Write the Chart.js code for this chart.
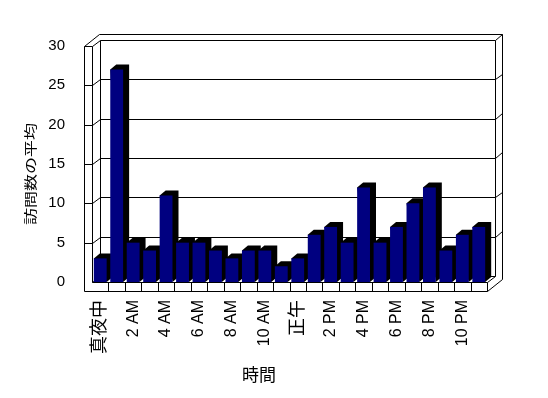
<!DOCTYPE html>
<html>
<head>
<meta charset="utf-8">
<script src="https://cdn.jsdelivr.net/npm/chart.js@4.4.0/dist/chart.umd.min.js"></script>
<style>
html, body { margin: 0; padding: 0; background: #fff; }
</style>
</head>
<body>
<canvas id="myChart" width="548" height="398"></canvas>
<script>
const hours = ['真夜中', '1 AM', '2 AM', '3 AM', '4 AM', '5 AM', '6 AM', '7 AM', '8 AM', '9 AM', '10 AM', '11 AM',
    '正午', '1 PM', '2 PM', '3 PM', '4 PM', '5 PM', '6 PM', '7 PM', '8 PM', '9 PM', '10 PM', '11 PM'];
const visits = [3, 27, 5, 4, 11, 5, 5, 4, 3, 4, 4, 2, 3, 6, 7, 5, 12, 5, 7, 10, 12, 4, 6, 7];
const yTicks = [0, 5, 10, 15, 20, 25, 30];
const xTitle = '時間';
const yTitle = '訪問数の平均';

const FONT = '"Liberation Sans", "Noto Sans CJK JP", sans-serif';
const CJK = '"Noto Sans CJK JP", sans-serif';

// depth offsets of the fake 3d look
const wall = { x: 7.6, y: -6 };
const slab = { x: 7.4, y: -5.7 };
const bar3d = { x: 6, y: -5 };

function line(c, x1, y1, x2, y2) {
    c.beginPath();
    c.moveTo(Math.round(x1) + 0.5, Math.round(y1) + 0.5);
    c.lineTo(Math.round(x2) + 0.5, Math.round(y2) + 0.5);
    c.stroke();
}

const frame3d = {
    id: 'frame3d',
    beforeDatasetsDraw(chart) {
        const c = chart.ctx;
        const a = chart.chartArea;
        const ys = chart.scales.y;
        const L = a.left, R = a.right, B = a.bottom;
        const bx0 = L + wall.x, bx1 = R + wall.x;
        const yTop = ys.getPixelForValue(30);

        c.save();
        c.strokeStyle = '#000';
        c.lineWidth = 1;

        // grid lines, running over the left wall, back wall and the right edge
        yTicks.forEach(function(v) {
            const y = ys.getPixelForValue(v);
            const yb = y + wall.y;
            if (v > 0) {
                line(c, L - 8.4, y, L, y);
                line(c, L, y, bx0, yb);
            }
            line(c, bx0, yb, bx1, yb);
            if (v > 0) line(c, bx1, yb, bx1 + slab.x, yb + slab.y);
        });

        // back wall edges
        line(c, bx0, yTop + wall.y, bx0, B + wall.y);
        line(c, bx1, yTop + wall.y, bx1, B + wall.y);
        line(c, bx1 + slab.x, yTop + wall.y + slab.y, bx1 + slab.x, B + 9 + wall.y + slab.y);
        line(c, bx0 - 1, yTop + wall.y + slab.y, bx1 + slab.x, yTop + wall.y + slab.y);

        // left wall
        line(c, L - 8.4, yTop, L - 8.4, B + 9);
        line(c, L, yTop, L, B);
        line(c, L - 8.4, yTop, bx0 - 1, yTop + wall.y + slab.y);
        line(c, L, B, bx0, B + wall.y);

        // floor slab
        line(c, L, B, R, B);
        line(c, L - 8.4, B + 9, R, B + 9);
        const step = (R - L) / hours.length;
        for (let i = 1; i <= hours.length; i++) {
            line(c, L + i * step, B, L + i * step, B + 9);
        }
        line(c, R, B, bx1, B + wall.y);
        line(c, R, B + 9, bx1 + slab.x, B + 9 + wall.y + slab.y);

        // bar sides and tops
        c.fillStyle = '#000';
        chart.getDatasetMeta(0).data.forEach(function(el) {
            const xl = el.x - el.width / 2, xr = el.x + el.width / 2;
            c.beginPath();
            c.moveTo(xl, el.y);
            c.lineTo(xl + bar3d.x, el.y + bar3d.y);
            c.lineTo(xr + bar3d.x, el.y + bar3d.y);
            c.lineTo(xr + bar3d.x, el.base + bar3d.y);
            c.lineTo(xr, el.base);
            c.closePath();
            c.fill();
        });
        c.restore();
    },
    afterDraw(chart) {
        const c = chart.ctx;
        c.save();
        c.fillStyle = '#000';
        c.textAlign = 'center';
        c.textBaseline = 'middle';
        c.font = '17px ' + CJK;
        c.fillText(xTitle, 259, 375);
        c.translate(30, 174);
        c.rotate(-Math.PI / 2);
        c.scale(1, 0.75);
        c.fillText(yTitle, 0, 0);
        c.restore();
    }
};

new Chart(document.getElementById('myChart'), {
    type: 'bar',
    data: {
        labels: hours,
        datasets: [{
            data: visits,
            backgroundColor: '#000080',
            borderWidth: 0,
            categoryPercentage: 1,
            barPercentage: 0.78
        }]
    },
    plugins: [frame3d],
    options: {
        responsive: false,
        animation: false,
        layout: { padding: { left: 0, right: 61, top: 46, bottom: 0 } },
        scales: {
            x: {
                grid: { display: false, drawTicks: false },
                border: { display: false },
                ticks: {
                    autoSkip: false,
                    minRotation: 90,
                    maxRotation: 90,
                    padding: 18,
                    color: '#000',
                    font: function(ctx) {
                        const cjk = /[^\x00-\x7F]/.test(hours[ctx.index] || '');
                        return { family: FONT, size: cjk ? 18 : 16 };
                    },
                    callback: function(value, index) {
                        return index % 2 === 0 ? hours[index] : '';
                    }
                },
                afterFit: function(scale) { scale.height = 116; }
            },
            y: {
                min: 0,
                max: 30,
                grid: { display: false, drawTicks: false },
                border: { display: false },
                ticks: {
                    padding: 27,
                    color: '#000',
                    font: { family: FONT, size: 15 }
                },
                afterBuildTicks: function(scale) {
                    scale.ticks = yTicks.map(v => ({ value: v }));
                },
                afterFit: function(scale) { scale.width = 92; }
            }
        },
        plugins: {
            legend: { display: false },
            tooltip: { enabled: false }
        }
    }
});
</script>
</body>
</html>
